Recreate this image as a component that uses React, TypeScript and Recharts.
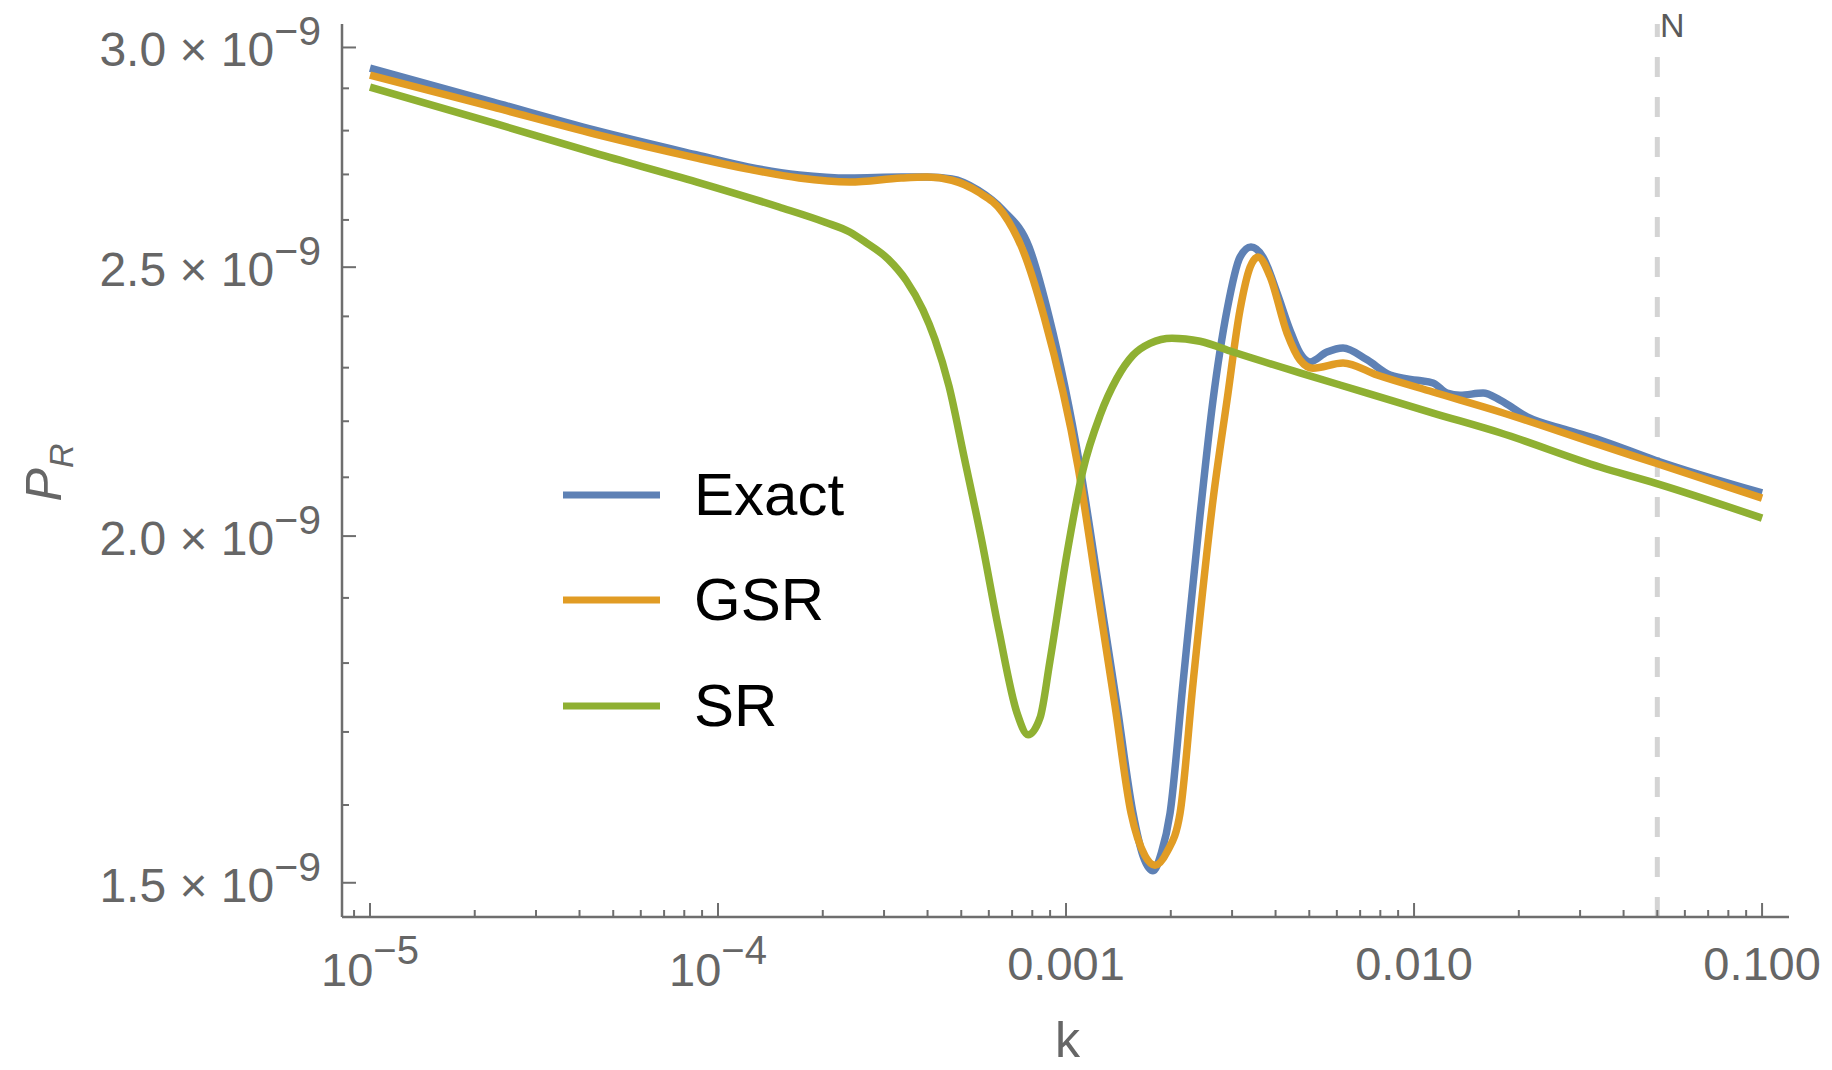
import { LineChart, Line, XAxis, YAxis, ReferenceLine, Legend } from 'recharts'

const FONT = '"Liberation Sans", Arial, sans-serif'
const AXIS = '#6e6e6e'
const TEXT = '#666666'

// k values (horizontal, log) and P_R in units of 1e-9 (vertical, log)
const kExact = [1e-5, 2.26e-5, 4.43e-5, 8.7e-5, 1.22e-4, 1.71e-4, 2.39e-4, 3.36e-4, 3.99e-4, 4.7e-4, 5.59e-4, 6.59e-4, 7.83e-4, 8.94e-4, 1.097e-3, 1.253e-3, 1.401e-3, 1.558e-3, 1.664e-3, 1.778e-3, 1.88e-3, 1.99e-3, 2.168e-3, 2.427e-3, 2.645e-3, 2.902e-3, 3.162e-3, 3.4e-3, 3.68e-3, 4.04e-3, 4.4e-3, 4.7e-3, 5.02e-3, 5.62e-3, 6.25e-3, 7.33e-3, 8.53e-3, 1.02e-2, 1.134e-2, 1.244e-2, 1.356e-2, 1.579e-2, 1.767e-2, 2.113e-2, 2.752e-2, 3.42e-2, 4.93e-2, 0.1]
const pExact = [2.949, 2.867, 2.801, 2.744, 2.717, 2.699, 2.692, 2.694, 2.694, 2.69, 2.665, 2.621, 2.542, 2.399, 2.118, 1.903, 1.738, 1.589, 1.534, 1.515, 1.538, 1.589, 1.77, 2.035, 2.239, 2.413, 2.521, 2.542, 2.521, 2.447, 2.373, 2.328, 2.311, 2.33, 2.338, 2.315, 2.286, 2.276, 2.271, 2.252, 2.248, 2.252, 2.239, 2.208, 2.184, 2.166, 2.13, 2.073]

const kGSR = [1e-5, 2.26e-5, 4.43e-5, 8.7e-5, 1.22e-4, 1.71e-4, 2.39e-4, 3.36e-4, 3.99e-4, 4.7e-4, 5.59e-4, 6.59e-4, 7.57e-4, 8.65e-4, 1.083e-3, 1.236e-3, 1.382e-3, 1.538e-3, 1.686e-3, 1.802e-3, 1.951e-3, 2.126e-3, 2.317e-3, 2.645e-3, 2.902e-3, 3.162e-3, 3.38e-3, 3.56e-3, 3.86e-3, 4.315e-3, 4.7e-3, 5.125e-3, 6.25e-3, 7.83e-3, 1.134e-2, 1.767e-2, 3.42e-2, 4.93e-2, 0.1]
const pGSR = [2.932, 2.855, 2.792, 2.737, 2.712, 2.692, 2.683, 2.692, 2.694, 2.687, 2.661, 2.615, 2.53, 2.399, 2.118, 1.903, 1.738, 1.589, 1.534, 1.522, 1.539, 1.589, 1.77, 2.061, 2.239, 2.413, 2.5, 2.521, 2.48, 2.367, 2.315, 2.299, 2.309, 2.286, 2.254, 2.217, 2.157, 2.125, 2.064]

const kSR = [1e-5, 2.26e-5, 4.43e-5, 8.7e-5, 1.497e-4, 2.03e-4, 2.39e-4, 2.645e-4, 3.08e-4, 3.47e-4, 3.88e-4, 4.2e-4, 4.61e-4, 5.09e-4, 5.7e-4, 6.42e-4, 7.23e-4, 7.78e-4, 8.42e-4, 8.99e-4, 1.007e-3, 1.119e-3, 1.253e-3, 1.401e-3, 1.558e-3, 1.743e-3, 2.016e-3, 2.427e-3, 3.02e-3, 4.7e-3, 7.33e-3, 1.134e-2, 1.767e-2, 3.42e-2, 4.93e-2, 0.1]
const pSR = [2.903, 2.818, 2.748, 2.683, 2.628, 2.595, 2.574, 2.553, 2.517, 2.473, 2.413, 2.355, 2.265, 2.137, 1.998, 1.848, 1.727, 1.696, 1.72, 1.803, 1.972, 2.113, 2.211, 2.28, 2.324, 2.347, 2.357, 2.351, 2.33, 2.29, 2.252, 2.215, 2.179, 2.118, 2.09, 2.03]

// axis ticks
const kTicks = [9e-6, 1e-5, 2e-5, 3e-5, 4e-5, 5e-5, 6e-5, 7e-5, 8e-5, 9e-5, 1e-4, 2e-4, 3e-4, 4e-4, 5e-4, 6e-4, 7e-4, 8e-4, 9e-4, 1e-3, 2e-3, 3e-3, 4e-3, 5e-3, 6e-3, 7e-3, 8e-3, 9e-3, 1e-2, 2e-2, 3e-2, 4e-2, 5e-2, 6e-2, 7e-2, 8e-2, 9e-2, 0.1]
const kMajor = [1e-5, 1e-4, 1e-3, 1e-2, 0.1]
const kLabels = [['10', '−5'], ['10', '−4'], ['0.001'], ['0.010'], ['0.100']]

const pTicks = [1.5, 1.6, 1.7, 1.8, 1.9, 2.0, 2.1, 2.2, 2.3, 2.4, 2.5, 2.6, 2.7, 2.8, 2.9, 3.0]
const pMajor = [1.5, 2.0, 2.5, 3.0]
const pLabels = ['1.5', '2.0', '2.5', '3.0']

const kDomain = [8.31e-6, 0.1195]
const pDomain = [1.458, 3.059]

const kCut = 0.05

const exactData = kExact.map((k, i) => ({ k, p: pExact[i] }))
const gsrData = kGSR.map((k, i) => ({ k, p: pGSR[i] }))
const srData = kSR.map((k, i) => ({ k, p: pSR[i] }))

const findMajor = (list: number[], v: number) => list.findIndex((m) => Math.abs(m - v) / m < 1e-6)

const BottomTick = (props: any) => {
  const { x, y, payload } = props
  const i = findMajor(kMajor, payload.value)
  const len = i >= 0 ? 14 : 7
  const lab = i >= 0 ? kLabels[i] : null
  return (
    <g>
      <line x1={x} x2={x} y1={y} y2={y - len} stroke={AXIS} strokeWidth={2} />
      {lab && (
        <text x={x} y={y + (lab.length > 1 ? 69 : 63)} textAnchor="middle" fill={TEXT} fontSize={47} fontFamily={FONT}>
          {lab[0]}
          {lab.length > 1 && (
            <tspan dy={-22} fontSize={40}>
              {lab[1]}
            </tspan>
          )}
        </text>
      )}
    </g>
  )
}

const TopTick = (props: any) => {
  const { x, y, payload } = props
  const len = findMajor(kMajor, payload.value) >= 0 ? 14 : 7
  return <line x1={x} x2={x} y1={y} y2={y + len} stroke={AXIS} strokeWidth={2} />
}

const LeftTick = (props: any) => {
  const { x, y, payload } = props
  const i = findMajor(pMajor, payload.value)
  const len = i >= 0 ? 14 : 7
  return (
    <g>
      <line x1={x} x2={x + len} y1={y} y2={y} stroke={AXIS} strokeWidth={2} />
      {i >= 0 && (
        <text x={x - 21} y={y + 19} textAnchor="end" fill={TEXT} fontSize={48} fontFamily={FONT}>
          {pLabels[i]} × 10
          <tspan dy={-21} fontSize={41}>
            −9
          </tspan>
        </text>
      )}
    </g>
  )
}

const RightTick = (props: any) => {
  const { x, y, payload } = props
  const len = findMajor(pMajor, payload.value) >= 0 ? 14 : 7
  return <line x1={x} x2={x - len} y1={y} y2={y} stroke={AXIS} strokeWidth={2} />
}

const KTitle = (props: any) => {
  const { viewBox } = props
  return (
    <text x={viewBox.x + viewBox.width / 2 + 2} y={viewBox.y + viewBox.height - 13} textAnchor="middle" fill={TEXT} fontSize={50} fontFamily={FONT}>
      k
    </text>
  )
}

const PTitle = (props: any) => {
  const { viewBox } = props
  const cy = viewBox.y + viewBox.height / 2 + 2
  return (
    <text transform={`translate(61, ${cy}) rotate(-90)`} textAnchor="middle" fill={TEXT} fontSize={50} fontStyle="italic" fontFamily={FONT}>
      P
      <tspan dy={12} fontSize={34}>
        R
      </tspan>
    </text>
  )
}

const NLabel = (props: any) => {
  const { viewBox } = props
  return (
    <text x={viewBox.x + 15} y={viewBox.y + 13} textAnchor="middle" fill="#5a5a5a" fontSize={34} fontFamily={FONT}>
      N
    </text>
  )
}

const LegendBox = (props: any) => {
  const { payload } = props
  return (
    <div style={{ display: 'flex', flexDirection: 'column' }}>
      {payload.map((entry: any) => (
        <div key={entry.value} style={{ height: 105.5, display: 'flex', alignItems: 'center' }}>
          <svg width={97} height={8} style={{ display: 'block' }}>
            <line x1={0} x2={97} y1={4} y2={4} stroke={entry.color} strokeWidth={7} />
          </svg>
          <span style={{ marginLeft: 34, fontSize: 60, lineHeight: 1, fontFamily: FONT, color: '#000' }}>{entry.value}</span>
        </div>
      ))}
    </div>
  )
}

export default function App() {
  return (
    <div style={{ position: 'absolute', left: 0, top: 0, background: '#fff' }}>
      <LineChart width={1832} height={1070} margin={{ top: 24, right: 43, bottom: 0, left: 0 }}>
        <XAxis
          xAxisId="b"
          dataKey="k"
          type="number"
          scale="log"
          domain={kDomain}
          allowDataOverflow
          ticks={kTicks}
          interval={0}
          tickSize={0}
          tickMargin={0}
          tickLine={false}
          axisLine={{ stroke: AXIS, strokeWidth: 2.5 }}
          tick={BottomTick}
          height={153}
          label={KTitle}
        />
        <XAxis
          xAxisId="t"
          orientation="top"
          type="number"
          scale="log"
          domain={kDomain}
          allowDataOverflow
          ticks={kTicks}
          interval={0}
          tickSize={0}
          tickMargin={0}
          tickLine={false}
          axisLine={{ stroke: AXIS, strokeWidth: 2.5 }}
          tick={TopTick}
          height={0}
        />
        <YAxis
          yAxisId="l"
          type="number"
          scale="log"
          domain={pDomain}
          allowDataOverflow
          ticks={pTicks}
          interval={0}
          tickSize={0}
          tickMargin={0}
          tickLine={false}
          axisLine={{ stroke: AXIS, strokeWidth: 2.5 }}
          tick={LeftTick}
          width={342}
          label={PTitle}
        />
        <YAxis
          yAxisId="r"
          orientation="right"
          type="number"
          scale="log"
          domain={pDomain}
          allowDataOverflow
          ticks={pTicks}
          interval={0}
          tickSize={0}
          tickMargin={0}
          tickLine={false}
          axisLine={{ stroke: AXIS, strokeWidth: 2.5 }}
          tick={RightTick}
          width={0}
        />
        <ReferenceLine xAxisId="b" yAxisId="l" x={kCut} stroke="#d4d4d4" strokeWidth={5} strokeDasharray="20 20" label={NLabel} />
        <Line xAxisId="b" yAxisId="l" data={exactData} dataKey="p" name="Exact" type="monotone" stroke="#5E81B5" strokeWidth={7.5} dot={false} isAnimationActive={false} />
        <Line xAxisId="b" yAxisId="l" data={gsrData} dataKey="p" name="GSR" type="monotone" stroke="#E19C24" strokeWidth={7.5} dot={false} isAnimationActive={false} />
        <Line xAxisId="b" yAxisId="l" data={srData} dataKey="p" name="SR" type="monotone" stroke="#8FB032" strokeWidth={7.5} dot={false} isAnimationActive={false} />
        <Legend layout="vertical" align="center" verticalAlign="middle" wrapperStyle={{ left: 563, top: 442, width: 'auto', height: 'auto' }} content={LegendBox} />
      </LineChart>
    </div>
  )
}
